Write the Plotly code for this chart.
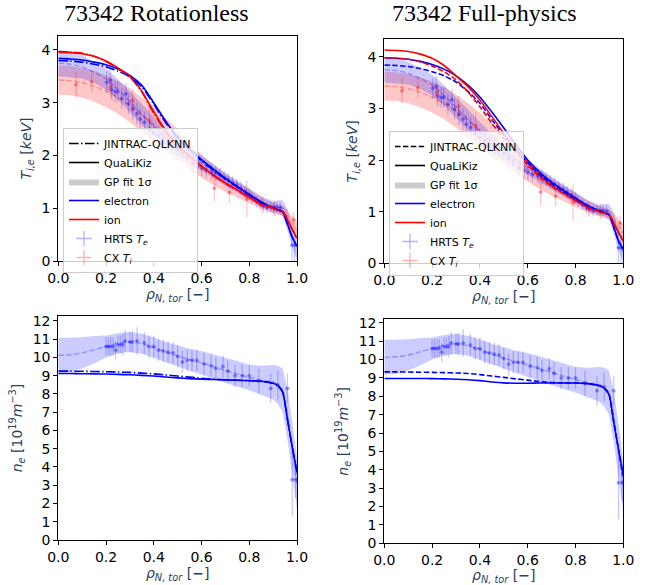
import plotly.graph_objects as go

# ---------------- data ----------------
rho = [0, 0.05, 0.1, 0.15, 0.2, 0.25, 0.3, 0.35, 0.4, 0.45, 0.5, 0.55, 0.6, 0.65,
       0.7, 0.75, 0.8, 0.85, 0.9, 0.92, 0.94, 0.96, 0.98, 1.0]

# Rotationless temperatures [keV]
qlk_te_rot = [3.84, 3.83, 3.81, 3.77, 3.72, 3.64, 3.52, 3.33, 3.0, 2.65, 2.35, 2.12, 1.92, 1.74,
              1.57, 1.41, 1.26, 1.12, 1.0, 0.97, 0.93, 0.7, 0.45, 0.28]
jin_te_rot = [3.8, 3.79, 3.77, 3.73, 3.68, 3.6, 3.49, 3.3, 2.97, 2.62, 2.32, 2.1, 1.9, 1.72,
              1.55, 1.4, 1.25, 1.11, 1.0, 0.97, 0.93, 0.7, 0.45, 0.28]
qlk_ti_rot = [3.96, 3.95, 3.93, 3.88, 3.79, 3.66, 3.5, 3.22, 2.83, 2.47, 2.2, 2.0, 1.8, 1.63,
              1.48, 1.35, 1.21, 1.08, 1.0, 0.97, 0.94, 0.78, 0.6, 0.43]
jin_ti_rot = [3.97, 3.96, 3.94, 3.88, 3.78, 3.65, 3.49, 3.2, 2.8, 2.45, 2.18, 1.98, 1.79, 1.62,
              1.47, 1.34, 1.2, 1.07, 1.0, 0.97, 0.94, 0.78, 0.6, 0.43]

# Full-physics temperatures [keV]
qlk_te_fp = [3.98, 3.97, 3.95, 3.91, 3.85, 3.76, 3.63, 3.45, 3.22, 2.93, 2.62, 2.3, 2.0, 1.76,
             1.57, 1.41, 1.26, 1.12, 1.01, 0.98, 0.94, 0.7, 0.43, 0.27]
qlk_ti_fp = [4.13, 4.12, 4.1, 4.05, 3.97, 3.83, 3.63, 3.42, 3.16, 2.84, 2.52, 2.22, 1.95, 1.7,
             1.51, 1.36, 1.22, 1.09, 1.0, 0.97, 0.94, 0.78, 0.6, 0.43]
jin_te_fp = [3.84, 3.83, 3.81, 3.77, 3.71, 3.63, 3.51, 3.33, 3.1, 2.78, 2.48, 2.2, 1.95, 1.72,
             1.54, 1.39, 1.25, 1.11, 1.01, 0.98, 0.94, 0.7, 0.43, 0.27]
jin_ti_fp = [3.98, 3.97, 3.95, 3.9, 3.82, 3.71, 3.55, 3.32, 3.03, 2.71, 2.42, 2.16, 1.9, 1.67,
             1.49, 1.35, 1.21, 1.08, 1.0, 0.97, 0.94, 0.78, 0.6, 0.43]

# GP fits
gp_te = [3.75, 3.73, 3.68, 3.58, 3.45, 3.25, 3.02, 2.78, 2.55, 2.34, 2.16, 2.0, 1.86, 1.7,
         1.55, 1.41, 1.27, 1.13, 1.03, 1.03, 1.0, 0.78, 0.45, 0.22]
gp_te_sig = [0.25, 0.25, 0.22, 0.2, 0.2, 0.2, 0.2, 0.2, 0.18, 0.17, 0.16, 0.15, 0.14, 0.13,
             0.12, 0.11, 0.1, 0.1, 0.1, 0.12, 0.15, 0.2, 0.2, 0.2]
gp_ti = [3.43, 3.42, 3.38, 3.31, 3.22, 3.1, 2.95, 2.77, 2.58, 2.39, 2.2, 2.0, 1.8, 1.63,
         1.48, 1.35, 1.22, 1.1, 1.0, 0.98, 0.95, 0.85, 0.72, 0.58]
gp_ti_sig = [0.28, 0.28, 0.28, 0.29, 0.3, 0.31, 0.32, 0.33, 0.33, 0.32, 0.3, 0.26, 0.22, 0.19,
             0.17, 0.15, 0.13, 0.11, 0.1, 0.1, 0.1, 0.12, 0.14, 0.16]
gp_ne = [10.12, 10.15, 10.25, 10.42, 10.6, 10.78, 10.85, 10.75, 10.55, 10.3, 10.08, 9.88, 9.7, 9.5,
         9.3, 9.1, 8.9, 8.75, 8.65, 8.5, 8.2, 6.9, 5.0, 3.1]
gp_ne_sig = [0.95, 0.92, 0.85, 0.75, 0.6, 0.55, 0.55, 0.55, 0.55, 0.55, 0.58, 0.6, 0.65, 0.68,
             0.7, 0.7, 0.7, 0.8, 0.95, 1.05, 1.2, 1.4, 1.5, 1.4]

# Density [1e19 m^-3]
qlk_ne_rot = [9.12, 9.12, 9.11, 9.1, 9.09, 9.07, 9.05, 9.02, 8.98, 8.93, 8.88, 8.84, 8.81, 8.79,
              8.77, 8.75, 8.73, 8.7, 8.58, 8.45, 8.1, 6.6, 5.1, 3.7]
jin_ne_rot = [9.25, 9.25, 9.24, 9.23, 9.22, 9.2, 9.18, 9.14, 9.1, 9.04, 8.98, 8.92, 8.86, 8.81,
              8.78, 8.75, 8.73, 8.7, 8.58, 8.45, 8.1, 6.6, 5.1, 3.7]
qlk_ne_fp = [8.97, 8.97, 8.97, 8.97, 8.96, 8.95, 8.93, 8.9, 8.85, 8.78, 8.73, 8.71, 8.71, 8.72,
             8.72, 8.72, 8.72, 8.69, 8.57, 8.45, 8.1, 6.6, 5.1, 3.65]
jin_ne_fp = [9.33, 9.33, 9.32, 9.31, 9.3, 9.29, 9.27, 9.24, 9.18, 9.1, 9.03, 8.95, 8.88, 8.8,
             8.75, 8.73, 8.72, 8.69, 8.57, 8.45, 8.1, 6.6, 5.1, 3.65]

# HRTS Te measurements
hrts_te_x = [0.203, 0.217, 0.224, 0.238, 0.249, 0.266, 0.283, 0.294, 0.312, 0.329, 0.343, 0.361,
             0.382, 0.399, 0.42, 0.44, 0.46, 0.48, 0.5, 0.52, 0.54, 0.566, 0.584, 0.601, 0.62,
             0.643, 0.66, 0.678, 0.695, 0.713, 0.73, 0.748, 0.765, 0.783, 0.8, 0.811, 0.83,
             0.846, 0.86, 0.874, 0.89, 0.902, 0.916, 0.93, 0.979, 0.99]
hrts_te_y = [3.39, 3.43, 3.24, 3.21, 3.21, 3.08, 3.17, 2.98, 2.88, 2.79, 2.69, 2.63, 2.5, 2.43,
             2.38, 2.32, 2.27, 2.2, 2.12, 2.05, 1.97, 1.85, 1.8, 1.76, 1.72, 1.69, 1.66, 1.63,
             1.58, 1.53, 1.48, 1.44, 1.38, 1.32, 1.26, 1.2, 1.13, 1.07, 1.04, 1.01, 1.03, 1.02,
             1.02, 1.01, 0.3, 0.3]
hrts_te_err = [0.2, 0.2, 0.2, 0.2, 0.2, 0.2, 0.2, 0.2, 0.2, 0.2, 0.2, 0.2, 0.18, 0.18, 0.17,
               0.17, 0.17, 0.16, 0.16, 0.16, 0.15, 0.15, 0.15, 0.15, 0.14, 0.14, 0.14, 0.13,
               0.13, 0.13, 0.12, 0.12, 0.12, 0.12, 0.11, 0.11, 0.1, 0.1, 0.1, 0.1, 0.1, 0.1,
               0.1, 0.1, 0.3, 0.3]

# CX Ti measurements
cx_ti_x = [0.074, 0.14, 0.22, 0.31, 0.382, 0.46, 0.559, 0.654, 0.717, 0.79, 0.855, 0.905, 0.986]
cx_ti_y = [3.34, 3.40, 3.30, 3.04, 2.67, 2.28, 1.83, 1.38, 1.30, 1.18, 1.05, 1.0, 0.78]
cx_ti_err = [0.25, 0.2, 0.2, 0.2, 0.25, 0.2, 0.2, 0.25, 0.2, 0.35, 0.15, 0.15, 0.15]

# HRTS ne measurements
hrts_ne_x = [0.2, 0.21, 0.22, 0.23, 0.24, 0.25, 0.26, 0.27, 0.28, 0.3, 0.31, 0.33, 0.36, 0.38,
             0.4, 0.42, 0.44, 0.46, 0.48, 0.5, 0.52, 0.54, 0.56, 0.58, 0.61, 0.64, 0.66, 0.69,
             0.71, 0.74, 0.77, 0.8, 0.84, 0.89, 0.92, 0.96, 0.98, 0.995]
hrts_ne_y = [10.6, 10.6, 10.6, 10.6, 10.4, 10.7, 10.7, 10.7, 10.9, 10.85, 10.85, 10.9, 10.8, 10.6,
             10.6, 10.4, 10.35, 10.3, 10.25, 10.05, 9.75, 9.85, 9.85, 9.85, 9.65, 9.55, 9.4, 9.5,
             9.25, 9.0, 9.0, 9.0, 8.7, 8.3, 8.5, 8.3, 3.3, 3.3]
hrts_ne_err = [0.5, 0.5, 0.5, 0.5, 0.5, 0.5, 0.5, 0.6, 0.6, 0.55, 0.6, 0.75, 0.6, 0.6, 0.6, 0.6,
               0.6, 0.6, 0.6, 0.6, 0.6, 0.6, 0.6, 0.6, 0.6, 0.6, 0.6, 0.6, 0.6, 0.6, 0.6, 0.6,
               0.7, 0.8, 0.8, 0.8, 2.0, 1.0]

x_ticks = [0, 0.2, 0.4, 0.6, 0.8, 1.0]
t_ticks = [0, 1, 2, 3, 4]
n_ticks = list(range(0, 13))

titles = ["73342 Rotationless", "73342 Full-physics"]
legend_labels = ["JINTRAC-QLKNN", "QuaLiKiz", "GP fit 1σ", "electron", "ion",
                 "HRTS <i>T</i><sub><i>e</i></sub>", "CX <i>T</i><sub><i>i</i></sub>"]

# ---------------- styling ----------------
BLUE = "#0000ff"
RED = "#ff0000"
DASHDOT = "9.6px,2.4px,1.5px,2.4px"
DASHED = "5.5px,2.4px"
FONT = "DejaVu Sans"

fig = go.Figure()

W, H = 657, 585
def dx(a, b):
    return [a / W, b / W]
def dy(top, bot):
    return [1 - bot / H, 1 - top / H]

axes = {
    "TL": dict(x="x", y="y", xd=dx(58.3, 297.0), yd=dy(36.0, 261.0), yr=[0, 4.265]),
    "TR": dict(x="x2", y="y2", xd=dx(384.3, 623.3), yd=dy(39.3, 263.3), yr=[0, 4.337]),
    "BL": dict(x="x3", y="y3", xd=dx(58.3, 297.0), yd=dy(316.0, 540.0), yr=[0, 12.27]),
    "BR": dict(x="x4", y="y4", xd=dx(384.3, 623.3), yd=dy(319.3, 543.3), yr=[0, 12.19]),
}


def band(ax, center, sig, color):
    up = [c + s for c, s in zip(center, sig)]
    lo = [c - s for c, s in zip(center, sig)]
    fig.add_trace(go.Scatter(x=rho + rho[::-1], y=up + lo[::-1], fill="toself",
                             fillcolor=color, line=dict(width=0), mode="lines",
                             showlegend=False, hoverinfo="skip",
                             xaxis=ax["x"], yaxis=ax["y"]))


def line(ax, y, color, dash, width=1.6, opacity=1.0):
    fig.add_trace(go.Scatter(x=rho, y=y, mode="lines",
                             line=dict(color=color, dash=dash, width=width,
                                       shape="spline", smoothing=0.6),
                             opacity=opacity, showlegend=False,
                             xaxis=ax["x"], yaxis=ax["y"]))


def points(ax, x, y, err, rgb):
    fig.add_trace(go.Scatter(x=x, y=y, mode="markers",
                             marker=dict(color="rgba(%s,0.3)" % rgb, size=4),
                             error_y=dict(type="data", array=err, color="rgba(%s,0.22)" % rgb,
                                          thickness=1.3, width=0),
                             error_x=dict(type="constant", value=0.006,
                                          color="rgba(%s,0.22)" % rgb, thickness=1.3, width=0),
                             showlegend=False, xaxis=ax["x"], yaxis=ax["y"]))


# ---- temperature panels ----
for key, models, jdash in [
    ("TL", (jin_te_rot, jin_ti_rot, qlk_te_rot, qlk_ti_rot), DASHDOT),
    ("TR", (jin_te_fp, jin_ti_fp, qlk_te_fp, qlk_ti_fp), DASHED),
]:
    ax = axes[key]
    band(ax, gp_ti, gp_ti_sig, "rgba(255,0,0,0.22)")
    band(ax, gp_te, gp_te_sig, "rgba(0,0,255,0.2)")
    line(ax, gp_te, "rgba(0,0,255,0.3)", DASHED, width=1.4)
    line(ax, gp_ti, "rgba(255,0,0,0.3)", DASHED, width=1.4)
    points(ax, hrts_te_x, hrts_te_y, hrts_te_err, "0,0,255")
    points(ax, cx_ti_x, cx_ti_y, cx_ti_err, "255,0,0")
    jte, jti, qte, qti = models
    line(ax, qte, BLUE, "solid")
    line(ax, qti, RED, "solid")
    line(ax, jte, BLUE, jdash)
    line(ax, jti, RED, jdash)

# ---- density panels ----
for key, qne, jne, jdash in [
    ("BL", qlk_ne_rot, jin_ne_rot, DASHDOT),
    ("BR", qlk_ne_fp, jin_ne_fp, DASHED),
]:
    ax = axes[key]
    band(ax, gp_ne, gp_ne_sig, "rgba(0,0,255,0.2)")
    line(ax, gp_ne, "rgba(0,0,255,0.3)", DASHED, width=1.4)
    points(ax, hrts_ne_x, hrts_ne_y, hrts_ne_err, "0,0,255")
    line(ax, qne, BLUE, "solid")
    line(ax, jne, BLUE, jdash)

# ---- legend entries ----
for lg, ax, jdash in [("legend", axes["TL"], DASHDOT), ("legend2", axes["TR"], DASHED)]:
    specs = [
        dict(mode="lines", line=dict(color="black", dash=jdash, width=1.6)),
        dict(mode="lines", line=dict(color="black", width=1.6)),
        dict(mode="lines", fill="toself", fillcolor="rgba(128,128,128,0.4)",
             line=dict(width=0, color="rgba(0,0,0,0)")),
        dict(mode="lines", line=dict(color=BLUE, width=1.6)),
        dict(mode="lines", line=dict(color=RED, width=1.6)),
        dict(mode="markers", marker=dict(symbol="cross-thin", size=11,
                                         line=dict(width=1.3, color="rgba(0,0,255,0.3)"),
                                         color="rgba(0,0,255,0.3)")),
        dict(mode="markers", marker=dict(symbol="cross-thin", size=11,
                                         line=dict(width=1.3, color="rgba(255,0,0,0.3)"),
                                         color="rgba(255,0,0,0.3)")),
    ]
    for name, spec in zip(legend_labels, specs):
        fig.add_trace(go.Scatter(x=[None], y=[None], name=name, legend=lg,
                                 xaxis=ax["x"], yaxis=ax["y"], **spec))

# ---- axes ----
tick_font = dict(family=FONT, size=14, color="black")
xtitle = "<i>ρ</i><sub><i>N, tor</i></sub> [<b>−</b>]"
ttitle = "<i>T</i><sub><i>i,e</i></sub> [<i>keV</i>]"
ntitle = "<i>n</i><sub><i>e</i></sub> [10<sup>19</sup><i>m</i><sup>−3</sup>]"

layout_axes = {}
for i, key in enumerate(["TL", "TR", "BL", "BR"]):
    ax = axes[key]
    sfx = "" if i == 0 else str(i + 1)
    common = dict(showline=True, linecolor="black", linewidth=1, mirror=True,
                  ticks="outside", ticklen=4, tickwidth=1, tickcolor="black",
                  showgrid=False, zeroline=False, tickfont=tick_font, automargin=False)
    layout_axes["xaxis" + sfx] = dict(domain=ax["xd"], range=[0, 1], tickvals=x_ticks,
                                      tickformat=".1f", anchor="y" + sfx,
                                      title=dict(text=xtitle, font=dict(family=FONT, size=14),
                                                 standoff=0),
                                      **common)
    yt = ttitle if key in ("TL", "TR") else ntitle
    yv = t_ticks if key in ("TL", "TR") else n_ticks
    layout_axes["yaxis" + sfx] = dict(domain=ax["yd"], range=ax["yr"], tickvals=yv,
                                      anchor="x" + sfx,
                                      title=dict(text=yt, font=dict(family=FONT, size=14),
                                                 standoff=6),
                                      **common)

legend_style = dict(bgcolor="rgba(255,255,255,0.8)", bordercolor="#cccccc", borderwidth=1,
                    font=dict(family=FONT, size=11, color="black"),
                    xanchor="left", yanchor="top", tracegroupgap=0, itemwidth=30)

fig.update_layout(
    width=W, height=H, autosize=False,
    margin=dict(l=0, r=0, t=0, b=0, autoexpand=False),
    paper_bgcolor="white", plot_bgcolor="white",
    legend=dict(x=63 / W, y=1 - 128 / H, **legend_style),
    legend2=dict(x=389 / W, y=1 - 131 / H, **legend_style),
    annotations=[
        dict(text=titles[0], x=156 / W, y=1 - 28 / H, xref="paper", yref="paper",
             xanchor="center", yanchor="bottom", showarrow=False,
             font=dict(family="Liberation Serif", size=24, color="black")),
        dict(text=titles[1], x=484 / W, y=1 - 28 / H, xref="paper", yref="paper",
             xanchor="center", yanchor="bottom", showarrow=False,
             font=dict(family="Liberation Serif", size=24, color="black")),
    ],
    **layout_axes,
)

fig.write_html("out.html", post_script="document.body.style.margin='0';",
               config={"displayModeBar": False})
